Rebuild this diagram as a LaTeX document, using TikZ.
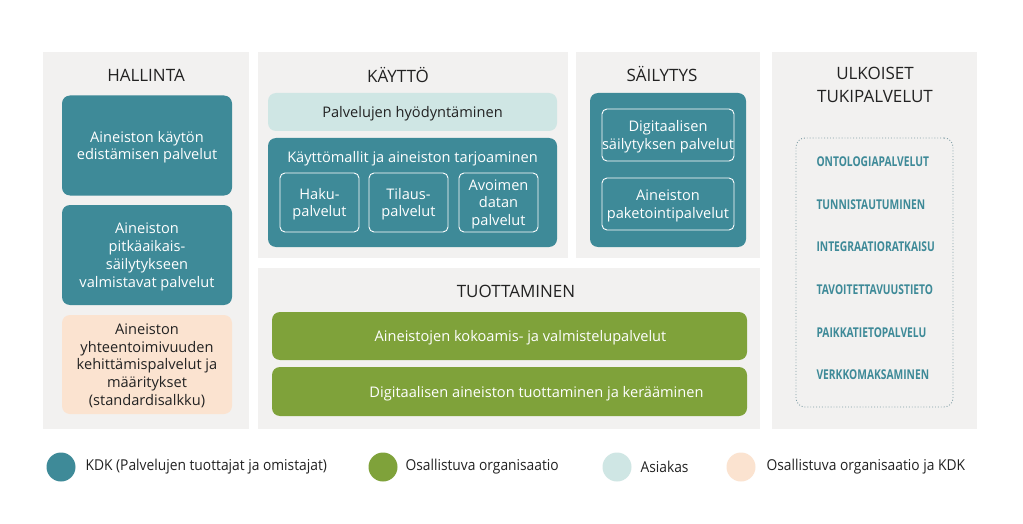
\documentclass[tikz,border=0pt]{standalone}
\usepackage{fontspec}
\setmainfont{Open Sans}
\newfontfamily\condfont[FakeStretch=0.92]{Open Sans}
\newfontfamily\condbold[FakeStretch=0.76]{Open Sans Bold}
\definecolor{teal}{HTML}{3E8A98}
\definecolor{grn}{HTML}{7FA23A}
\definecolor{ltteal}{HTML}{CFE6E4}
\definecolor{peach}{HTML}{FBE3D0}
\definecolor{panel}{HTML}{F2F1F0}
\definecolor{dark}{HTML}{222222}
\definecolor{dotc}{HTML}{7F9EA6}
\tikzset{
  panelbox/.style={fill=panel, draw=none, inner sep=0pt},
  ptitle/.style={font=\fontsize{17}{22.5}\selectfont, text=dark, align=center},
  body/.style={font=\fontsize{14.6}{17.8}\selectfont, align=center, text depth=0pt},
  tealbox/.style={body, fill=teal, text=white, rounded corners=8pt, inner sep=0pt},
  grnbox/.style={body, fill=grn, text=white, rounded corners=8pt, inner sep=0pt},
  ltbox/.style={body, fill=ltteal, text=dark, rounded corners=8pt, inner sep=0pt},
  pchbox/.style={body, fill=peach, text=dark, rounded corners=8pt, inner sep=0pt},
  subbox/.style={body, draw=white, line width=0.9pt, text=white, rounded corners=5pt, inner sep=0pt},
  ext/.style={font=\condbold\fontsize{13.5}{15}\selectfont, text=teal, anchor=west},
  legdot/.style={circle, minimum size=29pt, inner sep=0pt},
  legtxt/.style={font=\condfont\fontsize{15}{17}\selectfont, text=dark, anchor=west},
}
\begin{document}
\begin{tikzpicture}[x=1pt,y=-1pt]
\useasboundingbox (0,0) rectangle (1023,524);
\fill[white] (0,0) rectangle (1023,524);
% panels
\node[panelbox, minimum width=206pt, minimum height=377pt] (phal) at (146,240.5) {};
\node[panelbox, minimum width=310pt, minimum height=206pt] (pkay) at (413,155) {};
\node[panelbox, minimum width=184pt, minimum height=206pt] (psai) at (668,155) {};
\node[panelbox, minimum width=502pt, minimum height=161pt] (ptuo) at (509,348.5) {};
\node[panelbox, minimum width=205pt, minimum height=377pt] (pulk) at (874.5,240.5) {};
% titles
\node[ptitle] (thal) at (146,75) {HALLINTA};
\node[ptitle] (tkay) at (398,75) {KÄYTTÖ};
\node[ptitle] (tsai) at (662,74) {SÄILYTYS};
\node[ptitle] (ttuo) at (516,291) {TUOTTAMINEN};
\node[ptitle] (tulk) at (875,85) {ULKOISET\\TUKIPALVELUT};
% Hallinta
\node[tealbox, minimum width=170pt, minimum height=100pt] (h1) at (147,145.5) {Aineiston käytön\\edistämisen palvelut};
\node[tealbox, minimum width=170pt, minimum height=100pt] (h2) at (147,255) {Aineiston\\pitkäaikais-\\säilytykseen\\valmistavat palvelut};
\node[pchbox, minimum width=170pt, minimum height=99pt] (h3) at (147,364.5) {Aineiston\\yhteentoimivuuden\\kehittämispalvelut ja\\määritykset\\(standardisalkku)};
% Kaytto
\node[ltbox, minimum width=289pt, minimum height=38pt] (k1) at (412.5,112) {Palvelujen hyödyntäminen};
\node[tealbox, minimum width=289pt, minimum height=109pt] (k2) at (412.5,192.5) {};
\node[body, text=white] (k2t) at (412.5,156.5) {Käyttömallit ja aineiston tarjoaminen};
\node[subbox, minimum width=79pt, minimum height=59pt] (ka) at (319.5,202.5) {Haku-\\palvelut};
\node[subbox, minimum width=79pt, minimum height=59pt] (kb) at (408.5,202.5) {Tilaus-\\palvelut};
\node[subbox, minimum width=79pt, minimum height=59pt] (kc) at (498.5,202.5) {Avoimen\\datan\\palvelut};
% Sailytys
\node[tealbox, minimum width=156pt, minimum height=154pt] (s0) at (668,170) {};
\node[subbox, minimum width=132pt, minimum height=52pt] (s1) at (668,135) {Digitaalisen\\säilytyksen palvelut};
\node[subbox, minimum width=132pt, minimum height=52pt] (s2) at (668,204) {Aineiston\\paketointipalvelut};
% Tuottaminen
\node[grnbox, minimum width=475pt, minimum height=48pt] (t1) at (509.5,336) {\hspace*{22pt}Aineistojen kokoamis- ja valmistelupalvelut};
\node[grnbox, minimum width=475pt, minimum height=49pt] (t2) at (509.5,391.5) {\hspace*{54pt}Digitaalisen aineiston tuottaminen ja kerääminen};
% Ulkoiset
\node[draw=dotc, dotted, line width=0.9pt, rounded corners=9pt, minimum width=157pt, minimum height=269pt] (ubox) at (874.5,272.5) {};
\node[ext] (u1) at (813,162) {ONTOLOGIAPALVELUT};
\node[ext] (u2) at (813,205) {TUNNISTAUTUMINEN};
\node[ext] (u3) at (813,247) {INTEGRAATIORATKAISU};
\node[ext] (u4) at (813,290) {TAVOITETTAVUUSTIETO};
\node[ext] (u5) at (813,333) {PAIKKATIETOPALVELU};
\node[ext] (u6) at (813,375) {VERKKOMAKSAMINEN};
% Legend
\node[legdot, fill=teal] (l1) at (61,467) {};
\node[legtxt] (l1t) at (82,467) {KDK (Palvelujen tuottajat ja omistajat)};
\node[legdot, fill=grn] (l2) at (383,467) {};
\node[legtxt] (l2t) at (402,467) {Osallistuva organisaatio};
\node[legdot, fill=ltteal] (l3) at (617,467) {};
\node[legtxt] (l3t) at (637,467) {Asiakas};
\node[legdot, fill=peach] (l4) at (741,467) {};
\node[legtxt] (l4t) at (763,467) {Osallistuva organisaatio ja KDK};
\end{tikzpicture}
\end{document}
